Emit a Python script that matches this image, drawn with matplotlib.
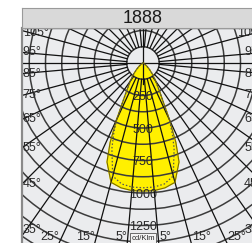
import numpy as np
import matplotlib.pyplot as plt
from matplotlib.patches import Circle

# ── data ─────────────────────────────────────────────────────────────────────
title = '1888'
unit_label = 'cd/Klm'
# gamma angles (deg) and intensities (cd/klm), C0-C180 plane (solid, filled)
gamma = [0, 5, 10, 15, 20, 22.5, 25, 30, 35, 40, 45, 50, 55, 60, 70, 80, 90]
i_c0 = [985, 985, 975, 950, 810, 660, 480, 260, 170, 115, 70, 40, 20, 10, 3, 0, 0]
# C90-C270 plane (dotted)
i_c90 = [960, 958, 945, 900, 700, 590, 480, 260, 170, 115, 70, 40, 20, 10, 3, 0, 0]
ring_labels = [250, 500, 750, 1000, 1250]
side_angles = [35, 45, 55, 65, 75, 85, 95, 105]
bottom_angles = [5, 15, 25]

# ── layout (pixel geometry of the reference) ─────────────────────────────────
W, H = 253, 243
px_per_cd = 0.13
cx, cy = 143, 63          # centre of diagram in px
left_px, right_px = 22, 264
top_px, bot_px = 28, 243

xl = (cx - left_px) / px_per_cd
xr = (right_px - cx) / px_per_cd
yb = (bot_px - cy) / px_per_cd
yt = (cy - top_px) / px_per_cd

bg = '#ebecee'
txt = '#2a2a2a'
font = 'Liberation Sans'

fig = plt.figure(figsize=(W / 100, H / 100), dpi=100)
ax = fig.add_axes([left_px / W, 0, (right_px - left_px) / W, (bot_px - top_px) / H])
ax.set_xlim(-xl, xr)
ax.set_ylim(-yb, yt)
ax.set_facecolor(bg)
ax.set_xticks([])
ax.set_yticks([])
for s in ['right', 'bottom']:
    ax.spines[s].set_visible(False)
ax.spines['left'].set_color('#8a8a8a')
ax.spines['left'].set_linewidth(1.6)
ax.spines['top'].set_color('#6a6a6a')
ax.spines['top'].set_linewidth(1.0)

# ── luminous intensity curves ───────────────────────────────────────────────
g = np.radians(np.array(gamma))
full_g = np.concatenate([-g[::-1], g[1:]])
c0 = np.array(i_c0, dtype=float)
c90 = np.array(i_c90, dtype=float)
full_c0 = np.concatenate([c0[::-1], c0[1:]])
full_c90 = np.concatenate([c90[::-1], c90[1:]])

x0 = full_c0 * np.sin(full_g)
y0 = -full_c0 * np.cos(full_g)
ax.fill(x0, y0, color='#fff000', zorder=1)
ax.plot(x0, y0, color='#7a6c00', lw=0.8, zorder=3)
x9 = full_c90 * np.sin(full_g)
y9 = -full_c90 * np.cos(full_g)
ax.plot(x9, y9, color='#555555', lw=0.9, ls=(0, (1.2, 1.6)), zorder=3)

# ── polar grid ──────────────────────────────────────────────────────────────
for r in np.arange(125, 2000, 125):
    ax.add_patch(Circle((0, 0), r, fill=False, ec='#3c3c3c', lw=1.1, zorder=2))
for a in np.arange(5, 180, 10):
    t = np.radians(a)
    for sgn in (-1, 1):
        ax.plot([sgn * 125 * np.sin(t), sgn * 2500 * np.sin(t)],
                [-125 * np.cos(t), -2500 * np.cos(t)],
                color='#111111', lw=0.9, zorder=2)
ax.plot([-xl, xr], [0, 0], color='#111111', lw=0.9, zorder=2)
ax.plot([0, 0], [yt, -160], color='#111111', lw=0.9, zorder=2)

# ── labels ──────────────────────────────────────────────────────────────────
lab = dict(fontsize=9, color=txt, family=font, zorder=5)
for v in ring_labels:
    ax.text(0, -v - 15, str(v), ha='center', va='center', **lab)
ax.text(0, -yb + 38, unit_label, ha='center', va='center', fontsize=5.5,
        color=txt, family=font, zorder=6,
        bbox=dict(boxstyle='square,pad=0.15', fc='#f4f4f4', ec='#555555', lw=0.6))

for a in side_angles:
    t = np.radians(a)
    for edge, ha, off in ((-xl, 'left', 6), (xr, 'right', -8)):
        y = abs(edge) * np.cos(t) / np.sin(t) * -1
        y = min(max(y, -yb + 100), yt - 40)
        ax.text(edge + off, y, f'{a}°', ha=ha, va='center', **lab)

for a in bottom_angles:
    xb = yb * np.tan(np.radians(a))
    yy = -yb + 48
    ax.text(-xb + 4, yy, f'{a}°', ha='right', va='center', **lab)
    ax.text(xb + 4, yy, f'{a}°', ha='left', va='center', **lab)

# ── title bar ───────────────────────────────────────────────────────────────
tax = fig.add_axes([left_px / W, (H - top_px) / H, (right_px - left_px) / W, 20 / H])
tax.set_facecolor('#d9d9d9')
tax.set_xticks([])
tax.set_yticks([])
for s in tax.spines.values():
    s.set_color('#9a9a9a')
    s.set_linewidth(0.8)
tax.text((cx - left_px) / (right_px - left_px), 0.48, title, ha='center', va='center',
         fontsize=13, color='#1a1a1a', family=font, transform=tax.transAxes)

fig.savefig('out.png', dpi=100)
